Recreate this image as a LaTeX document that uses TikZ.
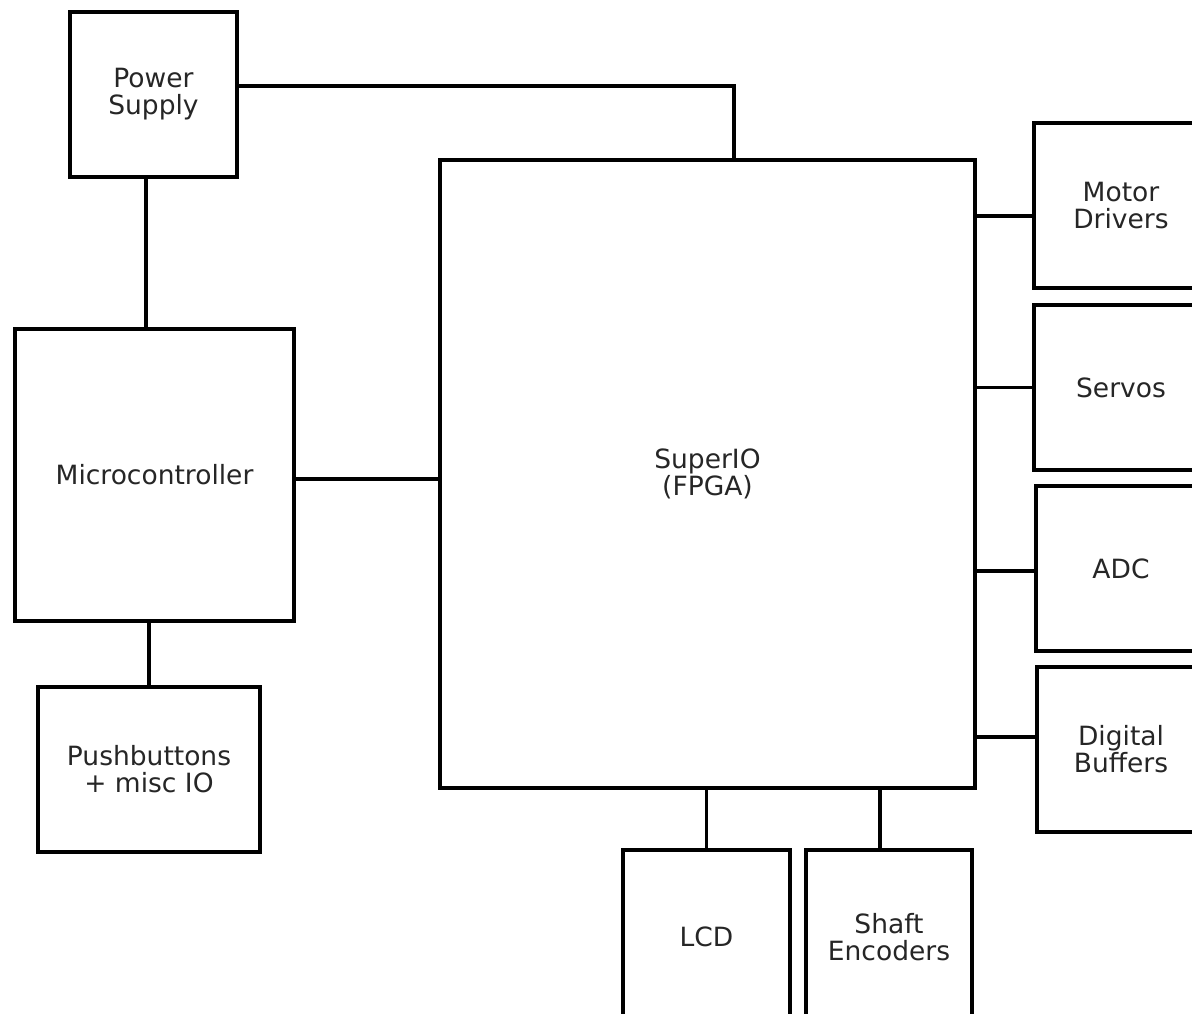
\documentclass[tikz,border=0pt]{standalone}
\usepackage{fontspec}
\setmainfont{DejaVu Sans}
\begin{document}
\begin{tikzpicture}[x=1pt,y=-1pt,
  blk/.style={draw=black,line width=3.8pt,fill=white,align=center,inner sep=0pt,
    font=\fontsize{26.5}{27}\selectfont,text=black!85},
  wire/.style={draw=black,line width=3.8pt}]
\clip (0,0) rectangle (1192,1014);
\fill[white] (0,0) rectangle (1192,1014);
\node[blk,minimum width=167pt,minimum height=165pt] (ps) at (153.5,94.5) {Power\\Supply};
\node[blk,minimum width=279pt,minimum height=292pt] (mc) at (154.5,475) {Microcontroller};
\node[blk,minimum width=222pt,minimum height=165pt] (pb) at (149,769.5) {Pushbuttons\\+ misc IO};
\node[blk,minimum width=535pt,minimum height=628pt] (sio) at (707.5,474) {SuperIO\\(FPGA)};
\node[blk,minimum width=174pt,minimum height=165pt] (md) at (1121,205.5) {Motor\\Drivers};
\node[blk,minimum width=174pt,minimum height=165pt] (sv) at (1121,387.5) {Servos};
\node[blk,minimum width=170pt,minimum height=165pt] (adc) at (1121,568.5) {ADC};
\node[blk,minimum width=168pt,minimum height=165pt] (db) at (1121,749.5) {Digital\\Buffers};
\node[blk,minimum width=167pt,minimum height=174pt] (lcd) at (706.5,937) {LCD};
\node[blk,minimum width=166pt,minimum height=174pt] (se) at (889,937) {Shaft\\Encoders};
% connector end points
\coordinate (psR) at ([yshift=8.5pt]ps.east);
\coordinate (sioT) at ([xshift=26.5pt]sio.north);
\coordinate (psB) at ([xshift=-7.5pt]ps.south);
\coordinate (mcR) at ([yshift=-4pt]mc.east);
\coordinate (mdL) at ([yshift=-10.5pt]md.west);
\coordinate (adcL) at ([yshift=-2.5pt]adc.west);
\coordinate (dbL) at ([yshift=12.5pt]db.west);
\coordinate (seT) at ([xshift=-9pt]se.north);
% connectors
\draw[wire] (psR) -| (sioT);
\draw[wire] (psB) -- (psB |- mc.north);
\draw[wire] (mcR) -- (mcR -| sio.west);
\draw[wire] (pb.north |- mc.south) -- (pb.north);
\draw[wire] (sio.east |- mdL) -- (mdL);
\draw[wire] (sio.east |- sv.west) -- (sv.west);
\draw[wire] (sio.east |- adcL) -- (adcL);
\draw[wire] (sio.east |- dbL) -- (dbL);
\draw[wire] (lcd.north |- sio.south) -- (lcd.north);
\draw[wire] (seT |- sio.south) -- (seT);
\end{tikzpicture}
\end{document}
